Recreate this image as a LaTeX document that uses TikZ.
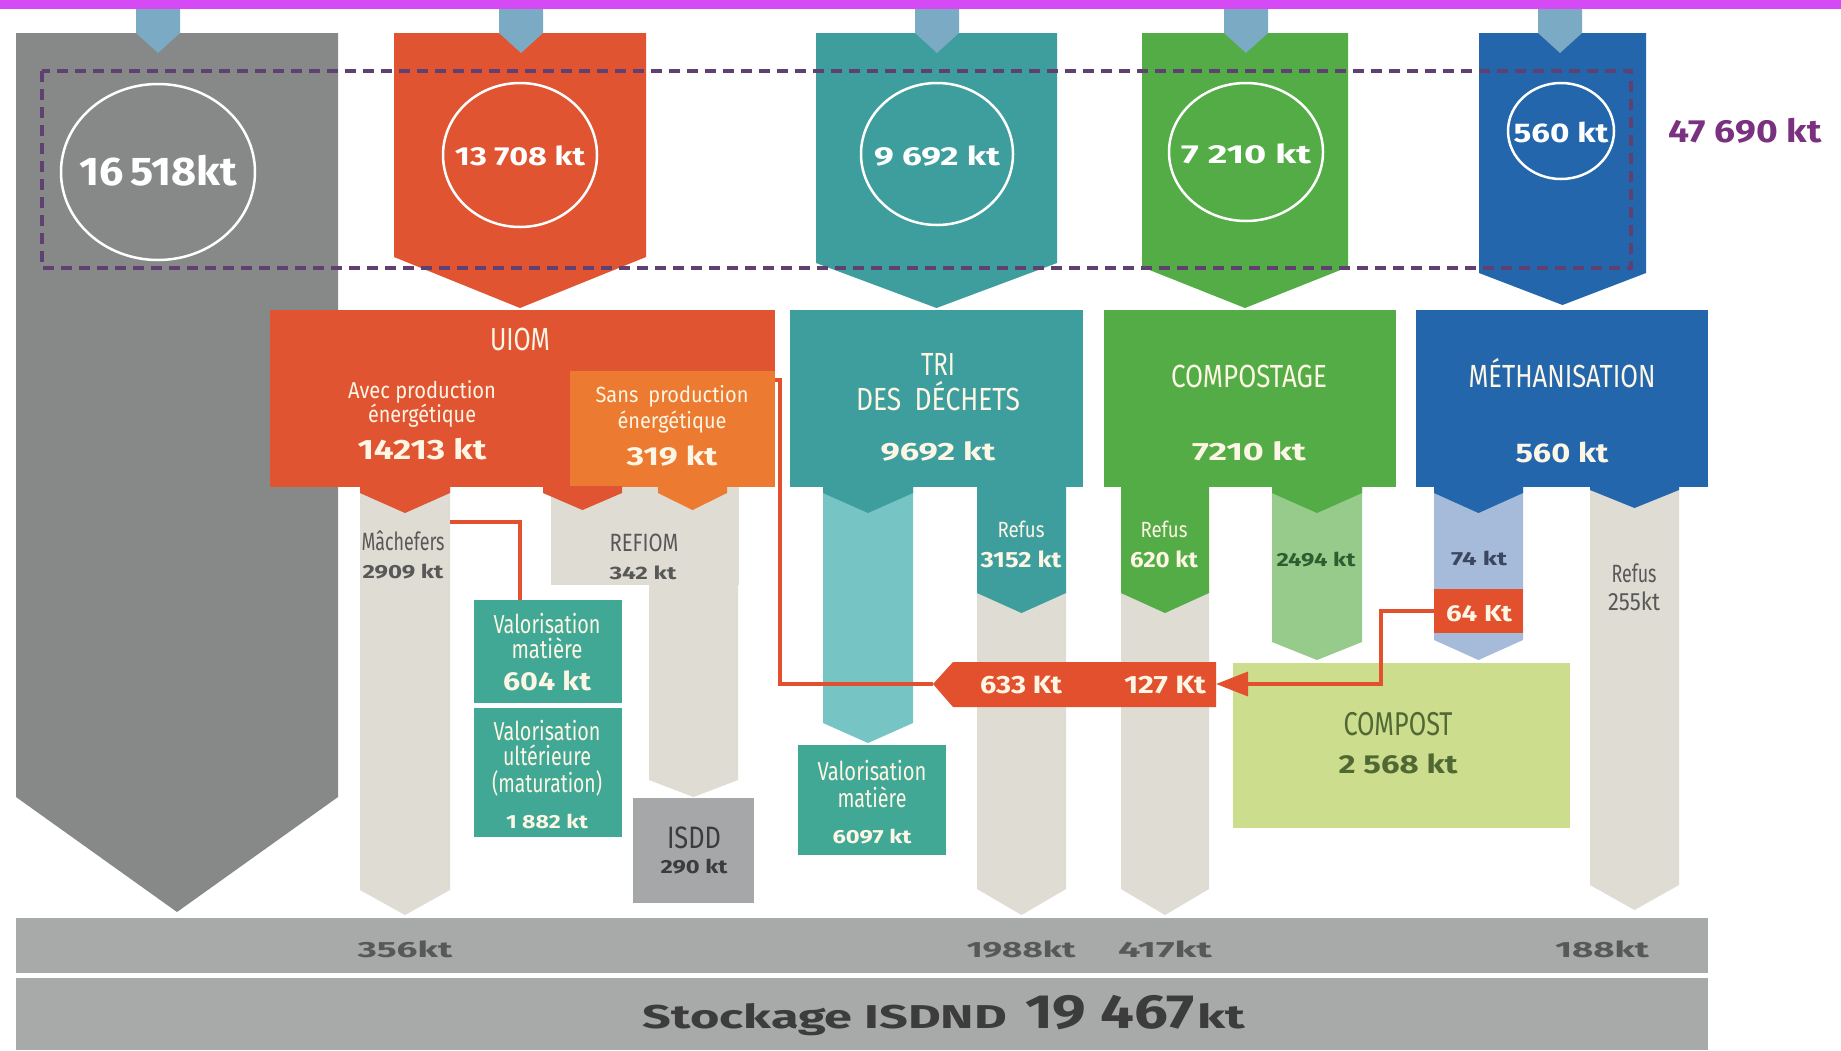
\documentclass[tikz,border=0pt]{standalone}
\usepackage{fontspec}
\usepackage{graphicx}
\setmainfont{Fira Sans}
\usetikzlibrary{arrows.meta}
\definecolor{magbar}{RGB}{214,74,246}
\definecolor{stub}{RGB}{122,170,196}
\definecolor{gcol}{RGB}{135,137,136}
\definecolor{uiom}{RGB}{224,84,50}
\definecolor{sansp}{RGB}{236,122,48}
\definecolor{teal1}{RGB}{62,158,157}
\definecolor{teal2}{RGB}{118,196,196}
\definecolor{grn1}{RGB}{83,172,69}
\definecolor{grn2}{RGB}{150,203,140}
\definecolor{blu1}{RGB}{35,102,171}
\definecolor{blu2}{RGB}{166,187,218}
\definecolor{beige}{RGB}{222,220,211}
\definecolor{valo}{RGB}{64,168,148}
\definecolor{isdd}{RGB}{166,167,169}
\definecolor{compost}{RGB}{205,221,142}
\definecolor{barg}{RGB}{168,170,170}
\definecolor{dashc}{RGB}{96,64,112}
\definecolor{purp}{RGB}{122,50,128}
\definecolor{redl}{RGB}{226,80,45}
\definecolor{cream}{RGB}{253,246,228}
\definecolor{dgray}{RGB}{88,88,88}
\definecolor{dgreen}{RGB}{46,94,48}
\definecolor{dblue}{RGB}{59,70,96}
\definecolor{olive}{RGB}{80,104,52}
\definecolor{darktx}{RGB}{60,60,60}
\newcommand\Rf[1]{\fontsize{#1}{#1}\selectfont}
\newcommand\Bf[1]{\fontsize{#1}{#1}\selectfont\bfseries}
% name, x, baseline y, width, font, colour, text
\newcommand\tx[7]{\node[anchor=base,inner sep=0pt,text=#6,font=#5] (#1) at (#2,#3) {\resizebox{#4pt}{\height}{#7}};}
% colour, x1, x2, ytop, ybottom, tip depth
\newcommand\colm[6]{\fill[#1] (#2,#4) -- (#3,#4) -- (#3,#5) -- ({(#2+#3)/2},{#5+#6}) -- (#2,#5) -- cycle;}
\tikzset{redline/.style={draw=redl,line width=3.5pt},
  ring/.style={draw=white,line width=2.5pt}}
\begin{document}
\begin{tikzpicture}[x=1pt,y=-1pt]
\useasboundingbox (0,0) rectangle (1841,1050);
\fill[white] (0,0) rectangle (1841,1050);
\fill[magbar] (0,0) rectangle (1841,9);
% beige columns
\colm{beige}{360}{450}{487}{890}{25}
\fill[beige] (551,487) rectangle (739,585);
\colm{beige}{649}{738}{580}{780}{17}
\colm{beige}{977}{1066}{590}{889}{26}
\colm{beige}{1121}{1209}{590}{889}{26}
\colm{beige}{1590}{1679}{487}{885}{25}
% light columns
\colm{teal2}{823}{913}{487}{723}{20}
\colm{grn2}{1272}{1362}{487}{642}{18}
\colm{blu2}{1434}{1523}{487}{640}{20}
% big gray column
\colm{gcol}{16}{338}{33}{797}{115}
% top arrows
\colm{uiom}{394}{646}{33}{257}{51}
\colm{teal1}{816}{1057}{33}{263}{45}
\colm{grn1}{1142}{1348}{33}{267}{41}
\colm{blu1}{1479}{1646}{33}{273}{32}
% stubs
\foreach \c in {158,521,937,1246,1560}{\colm{stub}{\c-22}{\c+22}{9}{33}{20}}
% process boxes
\fill[uiom] (270,310) rectangle (775,487);
\fill[sansp] (570,371) rectangle (775,487);
\colm{uiom}{360}{450}{486}{493}{20}
\colm{uiom}{543}{622}{486}{493}{17}
\colm{sansp}{658}{727}{486}{493}{17}
\fill[teal1] (790,310) rectangle (1083,487);
\colm{teal1}{823}{913}{486}{493}{20}
\colm{teal1}{977}{1066}{486}{593}{20}
\fill[grn1] (1104,310) rectangle (1396,487);
\colm{grn1}{1121}{1209}{486}{593}{20}
\colm{grn1}{1272}{1362}{486}{493}{20}
\fill[blu1] (1416,310) rectangle (1708,487);
\colm{blu1}{1434}{1523}{486}{493}{20}
\colm{blu1}{1590}{1679}{486}{490}{18}
% outcome boxes
\node[fill=valo,inner sep=0pt,minimum width=148pt,minimum height=103pt] (valo1) at (548,651.5) {};
\node[fill=valo,inner sep=0pt,minimum width=148pt,minimum height=129pt] (valo2) at (548,772.5) {};
\node[fill=valo,inner sep=0pt,minimum width=148pt,minimum height=110pt] (valo3) at (872,800) {};
\node[fill=isdd,inner sep=0pt,minimum width=121pt,minimum height=105pt] (isdd) at (693.5,850.5) {};
\node[fill=compost,inner sep=0pt,minimum width=337pt,minimum height=165pt] (compost) at (1401.5,745.5) {};
\node[fill=redl,inner sep=0pt,minimum width=89pt,minimum height=44pt] (b64) at (1478.5,611) {};
\fill[redl] (933,684) -- (953,662) -- (1216,662) -- (1216,707) -- (953,707) -- cycle;
\coordinate (bandW) at (933,684);
\coordinate (bandE) at (1216,684);
\coordinate (machE) at (450,522);
\coordinate (valoIn) at (520,600);
\coordinate (uiomE) at (775,380);
% connectors
\draw[redline] (machE) -| (valoIn);
\draw[redline] (uiomE) -- (780,380) |- (bandW);
\draw[redline,-{Triangle[length=32pt,width=24pt]}] (b64.west) -- (1381,611) |- (bandE);
% dashed frame
\draw[dashc,line width=3.5pt,dash pattern=on 11pt off 7pt] (42,71) rectangle (1631,268);
% rings
\draw[ring] (158,172) ellipse [x radius=97, y radius=88];
\draw[ring] (520,155) ellipse [x radius=77, y radius=72];
\draw[ring] (937,154) ellipse [x radius=76, y radius=71];
\draw[ring] (1246,152) ellipse [x radius=77, y radius=69];
\draw[ring] (1561,131) ellipse [x radius=53, y radius=48];
% bottom bars
\fill[barg] (16,918) rectangle (1708,973);
\fill[barg] (16,978) rectangle (1708,1050);
% texts
\tx{t1}{158}{185}{158}{\Bf{40}}{white}{16\,518kt}
\tx{t2}{520}{165}{130}{\Bf{26}}{white}{13 708 kt}
\tx{t3}{937}{165}{126}{\Bf{26}}{white}{9 692 kt}
\tx{t4}{1246}{163}{130}{\Bf{26}}{white}{7 210 kt}
\tx{t5}{1561}{142}{95}{\Bf{27}}{white}{560 kt}
\tx{t6}{1745}{142}{153}{\Bf{32}}{purp}{47 690 kt}
\tx{u1}{520}{350}{60}{\Rf{32}}{cream}{UIOM}
\tx{u2}{422}{398}{148}{\Rf{23}}{cream}{Avec production}
\tx{u3}{422}{422}{108}{\Rf{23}}{cream}{énergétique}
\tx{u4}{422}{459}{129}{\Bf{28}}{cream}{14213 kt}
\tx{s1}{672}{402}{153}{\Rf{22}}{cream}{Sans\enspace production}
\tx{s2}{672}{428}{109}{\Rf{22}}{cream}{énergétique}
\tx{s3}{672}{465}{91}{\Bf{26}}{cream}{319 kt}
\tx{r1}{938}{375}{34}{\Rf{32}}{cream}{TRI}
\tx{r2}{938}{410}{164}{\Rf{32}}{cream}{DES\enspace DÉCHETS}
\tx{r3}{938}{460}{115}{\Bf{25}}{cream}{9692 kt}
\tx{c1}{1249}{387}{156}{\Rf{32}}{cream}{COMPOSTAGE}
\tx{c2}{1249}{460}{114}{\Bf{25}}{cream}{7210 kt}
\tx{m1}{1562}{387}{187}{\Rf{32}}{cream}{MÉTHANISATION}
\tx{m2}{1562}{462}{93}{\Bf{27}}{cream}{560 kt}
\tx{ma1}{403}{550}{83}{\Rf{25}}{dgray}{Mâchefers}
\tx{ma2}{403}{578}{81}{\Bf{19}}{dgray}{2909 kt}
\tx{re1}{644}{551}{69}{\Rf{25}}{dgray}{REFIOM}
\tx{re2}{643}{579}{67}{\Bf{18}}{dgray}{342 kt}
\tx{f1}{1021}{537}{47}{\Rf{22}}{cream}{Refus}
\tx{f2}{1021}{567}{81}{\Bf{22}}{cream}{3152 kt}
\tx{g1}{1164}{537}{47}{\Rf{22}}{cream}{Refus}
\tx{g2}{1164}{567}{68}{\Bf{22}}{cream}{620 kt}
\tx{g3}{1316}{566}{79}{\Bf{19}}{dgreen}{2494 kt}
\tx{b1}{1479}{565}{56}{\Bf{19}}{dblue}{74 kt}
\tx{b2}{1479}{621}{66}{\Bf{23}}{cream}{64 Kt}
\tx{b3}{1634}{582}{45}{\Rf{25}}{dgray}{Refus}
\tx{b4}{1634}{610}{52}{\Rf{25}}{dgray}{255kt}
\tx{v1}{547}{633}{107}{\Rf{26}}{cream}{Valorisation}
\tx{v2}{547}{658}{71}{\Rf{26}}{cream}{matière}
\tx{v3}{547}{690}{88}{\Bf{26}}{cream}{604 kt}
\tx{w1}{547}{740}{107}{\Rf{26}}{cream}{Valorisation}
\tx{w2}{547}{765}{88}{\Rf{26}}{cream}{ultérieure}
\tx{w3}{547}{792}{110}{\Rf{26}}{cream}{(maturation)}
\tx{w4}{547}{828}{82}{\Bf{19}}{cream}{1 882 kt}
\tx{i1}{694}{848}{54}{\Rf{31}}{darktx}{ISDD}
\tx{i2}{694}{873}{67}{\Bf{19}}{darktx}{290 kt}
\tx{x1}{872}{780}{109}{\Rf{26}}{cream}{Valorisation}
\tx{x2}{872}{807}{69}{\Rf{26}}{cream}{matière}
\tx{x3}{872}{843}{79}{\Bf{19}}{cream}{6097 kt}
\tx{k1}{1021}{693}{82}{\Bf{25}}{cream}{633 Kt}
\tx{k2}{1165}{693}{82}{\Bf{25}}{cream}{127 Kt}
\tx{o1}{1398}{735}{109}{\Rf{33}}{olive}{COMPOST}
\tx{o2}{1398}{773}{119}{\Bf{26}}{olive}{2 568 kt}
\tx{z1}{405}{957}{95}{\Bf{22}}{dgray}{356kt}
\tx{z2}{1021}{957}{109}{\Bf{22}}{dgray}{1988kt}
\tx{z3}{1165}{957}{94}{\Bf{22}}{dgray}{417kt}
\tx{z4}{1602}{957}{94}{\Bf{22}}{dgray}{188kt}
\tx{st1}{825}{1028}{364}{\Bf{33}}{darktx}{Stockage ISDND}
\tx{st2}{1110}{1028}{170}{\Bf{48}}{darktx}{19 467}
\tx{st3}{1221}{1028}{48}{\Bf{33}}{darktx}{kt}
\end{tikzpicture}
\end{document}
